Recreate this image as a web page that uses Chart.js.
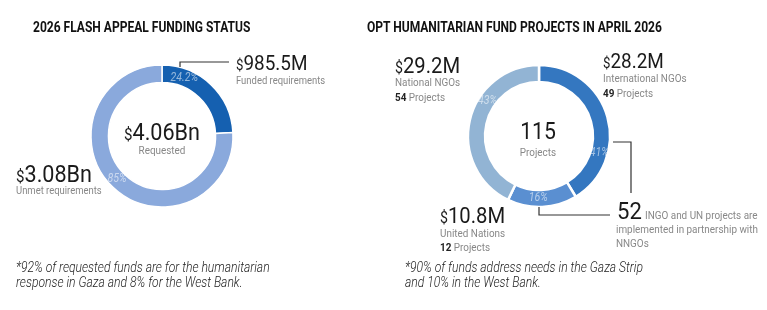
<!DOCTYPE html>
<html>
<head>
<meta charset="utf-8">
<script src="https://cdn.jsdelivr.net/npm/chart.js@4.4.1/dist/chart.umd.min.js"></script>
<style>
    body { margin: 0; background: #fff; }
    #page { position: relative; width: 767px; height: 310px; overflow: hidden; font-family: Roboto, sans-serif; }
    canvas { position: absolute; top: 0; }
    .t { position: absolute; white-space: nowrap; line-height: 1; transform: scaleX(0.9); transform-origin: left top; }
    .c { transform: translateX(-50%) scaleX(0.9); transform-origin: center top; }
    .title { font-size: 14px; font-weight: 700; color: #111; transform: scaleX(0.86); }
    .big { color: #1a1a1a; }
    .big small { font-size: 0.7em; }
    .sub { font-size: 10.5px; color: #888; }
    .sub b { color: #222; font-weight: 700; }
    .note { font-size: 14px; font-style: italic; font-weight: 300; color: #222; line-height: 15px; transform: scaleX(0.866); }
</style>
</head>
<body>
<div id="page">
    <canvas id="fundingChart" width="383" height="310" style="left:0"></canvas>
    <canvas id="projectsChart" width="384" height="310" style="left:383px"></canvas>

    <div class="t title" style="left:33px;top:20px">2026 FLASH APPEAL FUNDING STATUS</div>
    <div class="t big" style="left:236px;top:53px;font-size:21px"><small>$</small>985.5M</div>
    <div class="t sub" style="left:236px;top:75.5px">Funded requirements</div>
    <div class="t big c" style="left:162px;top:120px;font-size:24px"><small>$</small>4.06Bn</div>
    <div class="t sub c" style="left:162px;top:145px;font-size:11px">Requested</div>
    <div class="t big" style="left:16px;top:162px;font-size:24px"><small>$</small>3.08Bn</div>
    <div class="t sub" style="left:16px;top:185.5px">Unmet requirements</div>
    <div class="t note" style="left:16px;top:259.5px">*92% of requested funds are for the humanitarian<br>response in Gaza and 8% for the West Bank.</div>

    <div class="t title" style="left:367px;top:20px">OPT HUMANITARIAN FUND PROJECTS IN APRIL 2026</div>
    <div class="t big" style="left:395px;top:54px;font-size:22.5px"><small>$</small>29.2M</div>
    <div class="t sub" style="left:395px;top:77px;font-size:11px">National NGOs</div>
    <div class="t sub" style="left:395px;top:91.5px;font-size:11px"><b>54</b> Projects</div>
    <div class="t big" style="left:603px;top:50.5px;font-size:21px"><small>$</small>28.2M</div>
    <div class="t sub" style="left:603px;top:73px;font-size:11px">International NGOs</div>
    <div class="t sub" style="left:603px;top:87.5px;font-size:11px"><b>49</b> Projects</div>
    <div class="t big c" style="left:538px;top:120px;font-size:23.5px">115</div>
    <div class="t sub c" style="left:538px;top:147px;font-size:11px">Projects</div>
    <div class="t big" style="left:440px;top:204px;font-size:22.5px"><small>$</small>10.8M</div>
    <div class="t sub" style="left:440px;top:227.5px;font-size:11px">United Nations</div>
    <div class="t sub" style="left:440px;top:242px;font-size:11px"><b>12</b> Projects</div>
    <div class="t big" style="left:617px;top:199px;font-size:24.5px">52</div>
    <div class="t sub" style="left:645px;top:210px;font-size:11px">INGO and UN projects are</div>
    <div class="t sub" style="left:616px;top:224px;font-size:11px">implemented in partnership with</div>
    <div class="t sub" style="left:616px;top:238px;font-size:11px">NNGOs</div>
    <div class="t note" style="left:405px;top:259.5px">*90% of funds address needs in the Gaza Strip<br>and 10% in the West Bank.</div>
</div>
<script>
// flash appeal, USD millions
const fundingLabels = ['Funded requirements', 'Unmet requirements'];
const fundingValues = [985.5, 3080];
const fundingPctLabels = ['24.2%', '85%'];

// humanitarian fund projects, USD millions
const projectGroups = ['International NGOs', 'United Nations', 'National NGOs'];
const projectFunds = [28.2, 10.8, 29.2];
const projectCounts = [49, 12, 54];
const projectPctLabels = ['41%', '16%', '43%'];

// draws the % text inside each arc and the leader lines
const ringExtras = {
    id: 'ringExtras',
    afterDraw(chart, args, opts) {
        const ctx = chart.ctx;
        const arcs = chart.getDatasetMeta(0).data;
        const cx = arcs[0].x;
        const cy = arcs[0].y;
        ctx.save();
        ctx.font = 'italic 12px Roboto';
        ctx.fillStyle = 'rgba(255,255,255,0.55)';
        ctx.textAlign = 'center';
        ctx.textBaseline = 'middle';
        arcs.forEach((arc, i) => {
            const p = arc.getProps(['startAngle', 'endAngle', 'innerRadius', 'outerRadius'], true);
            const a = p.startAngle + (p.endAngle - p.startAngle) * opts.pos[i];
            const r = (p.innerRadius + p.outerRadius) / 2;
            ctx.save();
            ctx.translate(cx + Math.cos(a) * r, cy + Math.sin(a) * r);
            ctx.scale(0.88, 1);
            ctx.fillText(opts.labels[i], 0, 0);
            ctx.restore();
        });
        ctx.strokeStyle = '#333';
        ctx.lineWidth = 1.2;
        opts.leaders.forEach(pts => {
            ctx.beginPath();
            pts.forEach((pt, k) => {
                if (k === 0) ctx.moveTo(cx + pt[0], cy + pt[1]);
                else ctx.lineTo(cx + pt[0], cy + pt[1]);
            });
            ctx.stroke();
        });
        ctx.restore();
    }
};

function makeRing(id, labels, values, colors, border, padding, extras) {
    const ctx = document.getElementById(id).getContext('2d');
    return new Chart(ctx, {
        type: 'doughnut',
        data: {
            labels: labels,
            datasets: [{
                data: values,
                backgroundColor: colors,
                borderColor: '#fff',
                borderWidth: border
            }]
        },
        options: {
            responsive: false,
            animation: false,
            radius: 71,
            cutout: 53,
            layout: { padding: padding },
            plugins: {
                legend: { display: false },
                tooltip: { enabled: false },
                ringExtras: extras
            }
        },
        plugins: [ringExtras]
    });
}

makeRing('fundingChart', fundingLabels, fundingValues, ['#1560b0', '#8aa9dc'], 1.5,
    { left: 91, right: 150, top: 65, bottom: 103 },
    {
        labels: fundingPctLabels,
        pos: [0.24, 0.51],
        leaders: [[[18, -69], [18, -74], [67, -74]]]
    });

makeRing('projectsChart', projectGroups, projectFunds, ['#3477c0', '#5a8fd1', '#92b4d4'], 2.5,
    { left: 85, right: 157, top: 65, bottom: 103 },
    {
        labels: projectPctLabels,
        pos: [0.71, 0.56, 0.64],
        leaders: [[[74, 6], [92, 6], [92, 57]], [[0, 71], [0, 79], [71, 79]]]
    });
</script>
</body>
</html>
